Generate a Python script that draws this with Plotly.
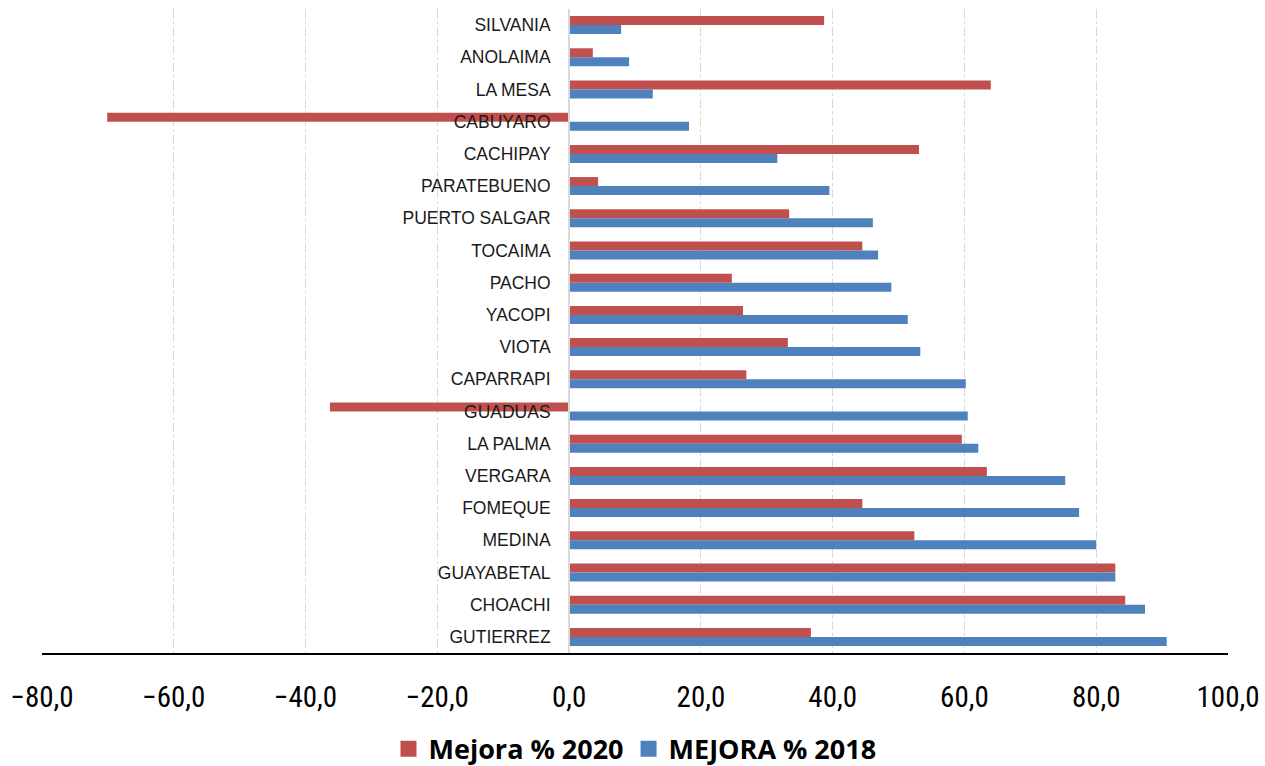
import plotly.graph_objects as go

# Municipalities, top to bottom
municipios = [
    "SILVANIA", "ANOLAIMA", "LA MESA", "CABUYARO", "CACHIPAY", "PARATEBUENO",
    "PUERTO SALGAR", "TOCAIMA", "PACHO", "YACOPI", "VIOTA", "CAPARRAPI",
    "GUADUAS", "LA PALMA", "VERGARA", "FOMEQUE", "MEDINA", "GUAYABETAL",
    "CHOACHI", "GUTIERREZ",
]

mejora_2020 = [
    38.7, 3.6, 64.0, -70.1, 53.1, 4.4,
    33.4, 44.5, 24.7, 26.4, 33.2, 26.9,
    -36.3, 59.6, 63.4, 44.5, 52.4, 82.9,
    84.4, 36.7,
]

mejora_2018 = [
    7.9, 9.1, 12.7, 18.2, 31.6, 39.5,
    46.1, 46.9, 48.9, 51.4, 53.3, 60.2,
    60.5, 62.1, 75.3, 77.4, 80.0, 82.9,
    87.4, 90.7,
]

x_ticks = [-80, -60, -40, -20, 0, 20, 40, 60, 80, 100]

RED = "#c0504d"
BLUE = "#4f81bd"
COND = "Roboto Condensed, Liberation Sans Narrow, Arial Narrow, sans-serif"

fig = go.Figure()
fig.add_trace(go.Bar(
    y=municipios, x=mejora_2020, orientation="h", name="Mejora % 2020",
    marker=dict(color=RED, line=dict(width=0)), showlegend=False,
))
fig.add_trace(go.Bar(
    y=municipios, x=mejora_2018, orientation="h", name="MEJORA % 2018",
    marker=dict(color=BLUE, line=dict(width=0)), showlegend=False,
))

# legend entries with large square swatches
for name, color in [("Mejora % 2020", RED), ("MEJORA % 2018", BLUE)]:
    fig.add_trace(go.Scatter(
        x=[None], y=[None], mode="markers", name=name,
        marker=dict(symbol="square", size=20, color=color),
    ))

x_min, x_max = -80, 100
zero_frac = (0 - x_min) / (x_max - x_min)

fig.update_layout(
    width=1265, height=766,
    margin=dict(l=42, r=37, t=9, b=113),
    paper_bgcolor="white", plot_bgcolor="white",
    barmode="group", bargap=0.44, bargroupgap=0,
    separators=", ",
    font=dict(family=COND, color="#000000"),
    xaxis=dict(
        range=[x_min, x_max], tickvals=x_ticks, tickformat=".1f",
        showgrid=True, gridcolor="#d9d9d9", griddash="dashdot", gridwidth=1,
        zeroline=False, automargin=False,
        showline=True, linecolor="#000000", linewidth=2,
        ticks="", tickfont=dict(size=29),
        ticklabelstandoff=17,
    ),
    yaxis=dict(
        autorange="reversed", anchor="free", position=zero_frac,
        showgrid=False, zeroline=False, automargin=False,
        showline=True, linecolor="#d9d9d9", linewidth=2,
        ticks="", ticklabelstandoff=14,
        tickfont=dict(size=17.5, family="Liberation Sans, Arial, sans-serif", color="#1a1a1a"),
    ),
    legend=dict(
        orientation="h", x=0.5, xanchor="center",
        yref="container", y=0.022, yanchor="middle",
        font=dict(size=27, family="Open Sans, Liberation Sans, sans-serif", weight="bold"),
        itemwidth=30, traceorder="normal",
    ),
)

fig.write_html("out.html")
